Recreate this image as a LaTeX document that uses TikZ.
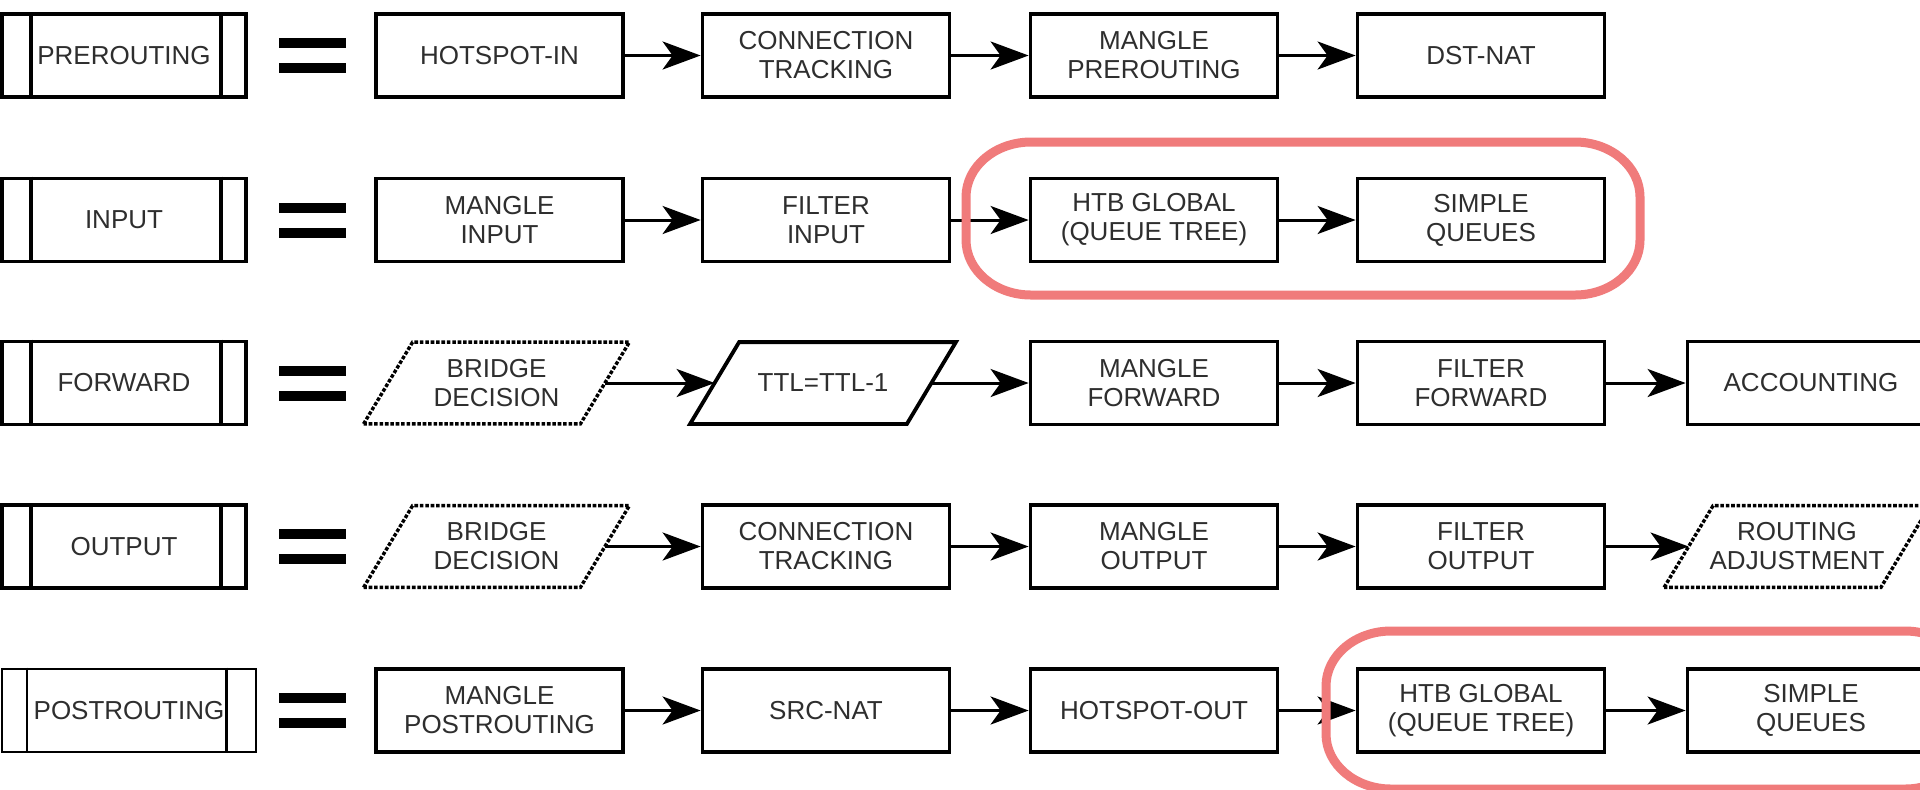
\documentclass[tikz,border=0pt]{standalone}
\usepackage{fontspec}
\setmainfont{Liberation Sans}
\usetikzlibrary{arrows.meta,calc}
\definecolor{hl}{HTML}{F07B7B}
\definecolor{txt}{HTML}{2E2E2E}
\tikzset{
  stagebox/.style={draw, line width=1.9pt, minimum width=123.5pt, minimum height=41.5pt,
    inner sep=0pt, align=center, font=\fontsize{13}{14.5}\selectfont, text=txt},
  hookbox/.style={stagebox, minimum width=122pt},
  slantbox/.style={draw=none, minimum width=108pt, minimum height=40.5pt,
    inner sep=0pt, align=center, font=\fontsize{13}{14.5}\selectfont, text=txt},
  flow/.style={line width=1.5pt, -{Stealth[length=19pt,width=14pt,inset=5pt]}},
  solidslant/.style={line width=1.9pt, line join=miter},
  dotslant/.style={line width=1.7pt, line join=miter, dash pattern=on 1.8pt off 0.9pt},
  ring/.style={draw=hl, line width=4.5pt},
}
\newcommand\slantframe[2]{%
  \draw[#2] ([xshift=-12.25pt]#1.south west) -- ([xshift=12.25pt]#1.north west)
    -- ([xshift=12.25pt]#1.north east) -- ([xshift=-12.25pt]#1.south east) -- cycle;}
\newcommand\hooklines[4]{%
  \draw[line width=#4] ([xshift=#2]#1.north west) -- ([xshift=#2]#1.south west);
  \draw[line width=#4] ([xshift=-#3]#1.north east) -- ([xshift=-#3]#1.south east);}
\newcommand\eqsign[1]{%
  \fill (279,{#1-17.5}) rectangle (346,{#1-7.5});
  \fill (279,{#1+7.5}) rectangle (346,{#1+17.5});}
\begin{document}
\begin{tikzpicture}[x=0.5pt,y=-0.5pt]
\useasboundingbox (0,0) rectangle (1920,789);
\clip (0,0) rectangle (1920,789);
\fill[white] (0,0) rectangle (1920,789);

% ---------- row 1 ----------
\node[hookbox] (L1) at (124,55.5) {PREROUTING};
\hooklines{L1}{15.5pt}{13.5pt}{1.9pt}
\eqsign{55.5}
\node[stagebox] (a1) at (499.5,55.5) {HOTSPOT-IN};
\node[stagebox] (a2) at (826,55.5) {CONNECTION\\TRACKING};
\node[stagebox] (a3) at (1154,55.5) {MANGLE\\PREROUTING};
\node[stagebox] (a4) at (1481,55.5) {DST-NAT};
\draw[flow] (a1) -- (a2);
\draw[flow] (a2) -- (a3);
\draw[flow] (a3) -- (a4);

% ---------- row 2 ----------
\node[hookbox] (L2) at (124,220) {INPUT};
\hooklines{L2}{15.5pt}{13.5pt}{1.9pt}
\eqsign{220}
\node[stagebox] (b1) at (499.5,220) {MANGLE\\INPUT};
\node[stagebox] (b2) at (826,220) {FILTER\\INPUT};
\node[stagebox] (b3) at (1154,220) {HTB GLOBAL\\(QUEUE TREE)};
\node[stagebox] (b4) at (1481,220) {SIMPLE\\QUEUES};
\draw[flow] (b1) -- (b2);
\draw[flow] (b2) -- (b3);
\draw[flow] (b3) -- (b4);

% ---------- row 3 ----------
\node[hookbox] (L3) at (124,383) {FORWARD};
\hooklines{L3}{15.5pt}{13.5pt}{1.9pt}
\eqsign{383}
\node[slantbox] (c1) at (496.5,383) {BRIDGE\\DECISION};
\slantframe{c1}{dotslant}
\node[slantbox] (c2) at (823,383) {TTL=TTL-1};
\slantframe{c2}{solidslant}
\node[stagebox] (c3) at (1154,383) {MANGLE\\FORWARD};
\node[stagebox] (c4) at (1481,383) {FILTER\\FORWARD};
\node[stagebox] (c5) at (1811,383) {ACCOUNTING};
\draw[flow] (c1) -- (c2);
\draw[flow] (c2) -- (c3);
\draw[flow] (c3) -- (c4);
\draw[flow] (c4) -- (c5);

% ---------- row 4 ----------
\node[hookbox] (L4) at (124,546.5) {OUTPUT};
\hooklines{L4}{15.5pt}{13.5pt}{1.9pt}
\eqsign{546.5}
\node[slantbox] (d1) at (496.5,546.5) {BRIDGE\\DECISION};
\slantframe{d1}{dotslant}
\node[stagebox] (d2) at (826,546.5) {CONNECTION\\TRACKING};
\node[stagebox] (d3) at (1154,546.5) {MANGLE\\OUTPUT};
\node[stagebox] (d4) at (1481,546.5) {FILTER\\OUTPUT};
\node[slantbox] (d5) at (1797,546.5) {ROUTING\\ADJUSTMENT};
\slantframe{d5}{dotslant}
\draw[flow] (d1) -- (d2);
\draw[flow] (d2) -- (d3);
\draw[flow] (d3) -- (d4);
\draw[flow] (d4) -- (d5);

% ---------- row 5 ----------
\node[hookbox, minimum width=127pt, line width=1.4pt] (L5) at (129,710.5) {POSTROUTING};
\hooklines{L5}{13pt}{15.5pt}{1.1pt}
\eqsign{710.5}
\node[stagebox] (e1) at (499.5,710.5) {MANGLE\\POSTROUTING};
\node[stagebox] (e2) at (826,710.5) {SRC-NAT};
\node[stagebox] (e3) at (1154,710.5) {HOTSPOT-OUT};
\node[stagebox] (e4) at (1481,710.5) {HTB GLOBAL\\(QUEUE TREE)};
\node[stagebox] (e5) at (1811,710.5) {SIMPLE\\QUEUES};
\draw[flow] (e1) -- (e2);
\draw[flow] (e2) -- (e3);
\draw[flow] (e3) -- (e4);
\draw[flow] (e4) -- (e5);

% ---------- highlight rings ----------
\draw[ring] (1031,142) -- (1575,142)
  arc[start angle=90,end angle=0,x radius=32.5pt,y radius=27.5pt] -- (1640,240)
  arc[start angle=0,end angle=-90,x radius=32.5pt,y radius=27.5pt] -- (1031,295)
  arc[start angle=-90,end angle=-180,x radius=32.5pt,y radius=27.5pt] -- (966,197)
  arc[start angle=180,end angle=90,x radius=32.5pt,y radius=27.5pt] -- cycle;
\draw[ring] (1391,631) -- (1905,631)
  arc[start angle=90,end angle=0,x radius=32.5pt,y radius=27.5pt] -- (1970,734)
  arc[start angle=0,end angle=-90,x radius=32.5pt,y radius=27.5pt] -- (1391,789)
  arc[start angle=-90,end angle=-180,x radius=32.5pt,y radius=27.5pt] -- (1326,686)
  arc[start angle=180,end angle=90,x radius=32.5pt,y radius=27.5pt] -- cycle;
\end{tikzpicture}
\end{document}
